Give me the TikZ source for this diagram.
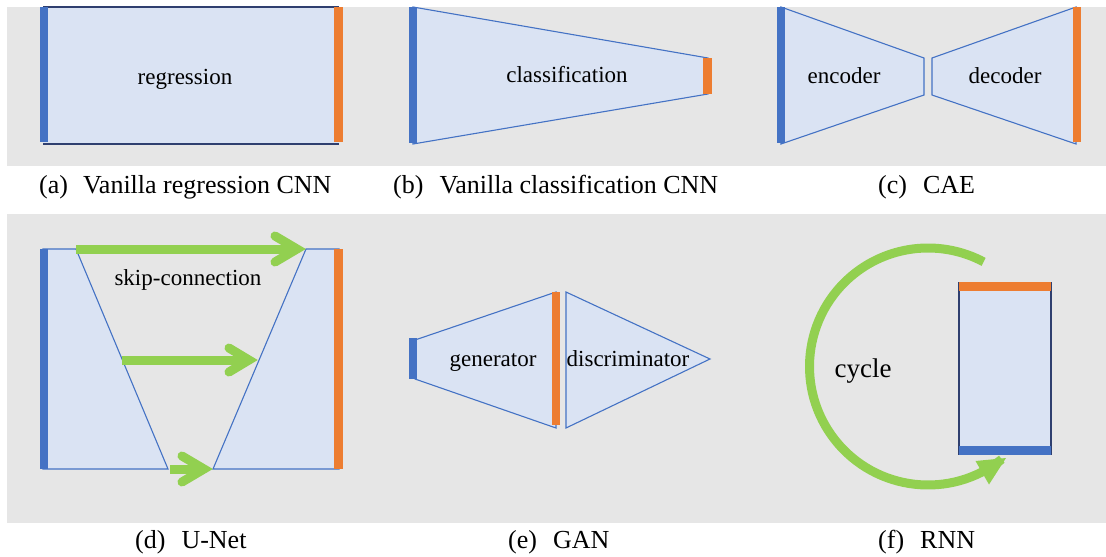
\documentclass[tikz,border=0pt]{standalone}
\usepackage{fontspec}
\setmainfont{Liberation Serif}
\begin{document}
\begin{tikzpicture}[x=1pt,y=-1pt,
  panel/.style={fill=panelgray, draw=none},
  layer/.style={fill=layerfill, draw=layerline, line width=1.1pt, line join=miter},
  inbar/.style={fill=barblue, draw=none},
  outbar/.style={fill=barorange, draw=none},
  lbl/.style={font=\fontsize{23}{26}\selectfont, anchor=base, inner sep=0pt},
  captext/.style={font=\fontsize{26}{30}\selectfont, anchor=base west, inner sep=0pt},
  skipline/.style={draw=arrowgreen, line width=9pt},
  skiphead/.style={draw=arrowgreen, line width=9pt, line cap=round, line join=miter, miter limit=10}
]
\definecolor{panelgray}{HTML}{E6E6E6}
\definecolor{layerfill}{HTML}{DAE3F3}
\definecolor{layerline}{HTML}{4472C4}
\definecolor{darkline}{HTML}{2F3F6F}
\definecolor{barblue}{HTML}{4472C4}
\definecolor{barorange}{HTML}{ED7D31}
\definecolor{arrowgreen}{HTML}{92D050}

\useasboundingbox (0,0) rectangle (1106,557);
\fill[white] (0,0) rectangle (1106,557);
\path[panel] (7,7) rectangle (1106,166);
\path[panel] (7,214) rectangle (1106,523);

% (a) regression
\path[fill=layerfill] (43,7) rectangle (339,144);
\draw[darkline, line width=1.2pt] (43,7) -- (339,7) (43,144) -- (339,144);
\path[inbar] (40,7) rectangle (48,142);
\path[outbar] (334,7) rectangle (343,142);
\node[lbl] (reg) at (185,84) {regression};
\node[captext] (capa) at (39,193) {(a)\hspace{15pt}Vanilla regression CNN};

% (b) classification
\path[layer] (413,7) -- (708,58) -- (708,94) -- (413,144) -- cycle;
\path[inbar] (409,7) rectangle (417,143);
\path[outbar] (703,58) rectangle (712,94);
\node[lbl] (cls) at (567,82) {classification};
\node[captext] (capb) at (393,193) {(b)\hspace{16pt}Vanilla classification CNN};

% (c) CAE
\path[layer] (781,7) -- (924,58) -- (924,95) -- (781,144) -- cycle;
\path[layer] (932,58) -- (1076,7) -- (1076,144) -- (932,95) -- cycle;
\path[inbar] (777,7) rectangle (785,143);
\path[outbar] (1073,7) rectangle (1081,142);
\node[lbl] (enc) at (844,83) {encoder};
\node[lbl] (dec) at (1005,83) {decoder};
\node[captext] (capc) at (878,193) {(c)\hspace{16pt}CAE};

% (d) U-Net
\path[layer] (43,249) -- (76,249) -- (168,469) -- (43,469) -- cycle;
\path[layer] (213,469) -- (306,249) -- (339,249) -- (339,469) -- cycle;
\path[inbar] (40,249) rectangle (48,469);
\path[outbar] (334,249) rectangle (343,469);
\coordinate (s1a) at (76,249);  \coordinate (s1b) at (297,249);
\coordinate (s2a) at (122,360); \coordinate (s2b) at (249,360);
\coordinate (s3a) at (170,469); \coordinate (s3b) at (204,469);
\draw[skipline] (s1a) -- (s1b);
\draw[skiphead] ([shift={(-22,-13)}]s1b) -- (s1b) -- ([shift={(-22,13)}]s1b);
\draw[skipline] (s2a) -- (s2b);
\draw[skiphead] ([shift={(-20,-12)}]s2b) -- (s2b) -- ([shift={(-20,12)}]s2b);
\draw[skipline] (s3a) -- (s3b);
\draw[skiphead] ([shift={(-22,-13)}]s3b) -- (s3b) -- ([shift={(-22,13)}]s3b);
\node[lbl] (skip) at (188,285) {skip-connection};
\node[captext] (capd) at (135,548) {(d)\hspace{16pt}U-Net};

% (e) GAN
\path[layer] (415,340) -- (556,292) -- (556,428) -- (415,379) -- cycle;
\path[layer] (566,292) -- (710,359) -- (566,428) -- cycle;
\path[inbar] (409,338) rectangle (417,379);
\path[outbar] (552,292) rectangle (560,425);
\node[lbl] (gen) at (493,366) {generator};
\node[lbl] (dis) at (628,366) {discriminator};
\node[captext] (cape) at (508,548) {(e)\hspace{16pt}GAN};

% (f) RNN
\path[fill=layerfill] (959,282) rectangle (1051,455);
\draw[darkline, line width=1.2pt] (959,282) -- (959,455) (1051,282) -- (1051,455);
\path[outbar] (959,282) rectangle (1051,291);
\path[inbar] (959,446) rectangle (1051,455);
\coordinate (cc) at (928,366.5);
\draw[arrowgreen, line width=9pt] (cc) ++(51.5:118.5) arc[start angle=51.5, end angle=298, radius=118.5];
\coordinate (tipf) at (1006,458);
\coordinate (wa) at (975.5,461);
\coordinate (wb) at (989,484.5);
\fill[arrowgreen] (wa) -- (tipf) -- (wb) -- cycle;
\node[font=\fontsize{27}{30}\selectfont, anchor=base, inner sep=0pt] (cyc) at (863,377) {cycle};
\node[captext] (capf) at (878,548) {(f)\hspace{16pt}RNN};
\end{tikzpicture}
\end{document}
